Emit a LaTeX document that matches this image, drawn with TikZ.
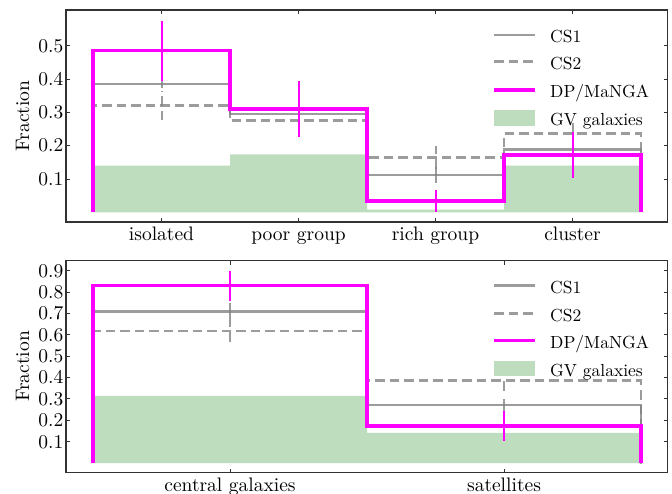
\documentclass[tikz,border=0pt]{standalone}
\usepackage{fontspec}
\setmainfont{lmroman10-regular.otf}
\definecolor{gvgreen}{RGB}{190,221,190}
\definecolor{dpmag}{RGB}{255,0,255}
\definecolor{framegray}{RGB}{50,50,50}
\tikzset{
  gv/.style={fill=gvgreen, draw=none},
  csone/.style={draw=gray, draw opacity=0.78, line width=2.8pt},
  cstwo/.style={draw=gray, draw opacity=0.78, line width=2.8pt, dash pattern=on 9.5pt off 5pt},
  dpline/.style={draw=dpmag, line width=3.2pt},
  cserr/.style={draw=gray, draw opacity=0.78, line width=2pt},
  cserrd/.style={draw=gray, draw opacity=0.78, line width=2pt, dash pattern=on 9.5pt off 5pt},
  dperr/.style={draw=dpmag, line width=2pt},
  frame/.style={draw=framegray, line width=1.3pt},
  tickmark/.style={draw=framegray, line width=1pt},
  ticklab/.style={font=\fontsize{19.5}{20}\selectfont, inner sep=0pt, text=black},
  leglab/.style={font=\fontsize{17.5}{18}\selectfont, inner sep=0pt, anchor=base west, text=black},
}
\begin{document}
\begin{tikzpicture}[x=1pt,y=-1pt]
\useasboundingbox (0,0) rectangle (672,493);
% ================= TOP PANEL =================
\begin{scope}[shift={(0,212.3)}, y=333pt]
  \fill[gv] (93,0) -- (93,0.14) -- (230,0.14) -- (230,0.174) -- (367,0.174) -- (367,0.008) -- (504,0.008) -- (504,0.14) -- (641,0.14) -- (641,0) -- cycle;
  \draw[csone] (93,0) |- (230,0.385) |- (367,0.295) |- (504,0.112) |- (641,0.189) -- (641,0);
  \draw[cstwo] (93,0) |- (230,0.321) |- (367,0.275) |- (504,0.165) |- (641,0.237) -- (641,0);
  % CS1 error bars
  \draw[cserr] (161.5,0.373) -- (161.5,0.397);
  \draw[cserr] (298.5,0.283) -- (298.5,0.307);
  \draw[cserr] (435.5,0.087) -- (435.5,0.137);
  \draw[cserr] (572.5,0.169) -- (572.5,0.209);
  % CS2 error bars
  \draw[cserrd] (161.5,0.277) -- (161.5,0.365);
  \draw[cserrd] (298.5,0.263) -- (298.5,0.287);
  \draw[cserrd] (435.5,0.131) -- (435.5,0.199);
  \draw[cserrd] (572.5,0.197) -- (572.5,0.277);
  % DP/MaNGA
  \draw[dpline] (93,0) |- (230,0.485) |- (367,0.31) |- (504,0.034) |- (641,0.172) -- (641,0);
  \draw[dperr] (161.5,0.395) -- (161.5,0.575);
  \draw[dperr] (298.5,0.225) -- (298.5,0.395);
  \draw[dperr] (435.5,0.001) -- (435.5,0.067);
  \draw[dperr] (572.5,0.104) -- (572.5,0.240);
  % y ticks and labels
  \foreach \v/\n in {0.1/a,0.2/b,0.3/c,0.4/d,0.5/e}{
    \draw[tickmark] (66,\v) -- ++(4,0);
    \draw[tickmark] (667.5,\v) -- ++(-4,0);
    \node[ticklab, anchor=east] (ty\n) at (63.5,\v) {\v};
  }
\end{scope}
\draw[frame] (66,10) rectangle (667.5,222);
\foreach \x/\n in {161.5/a,298.5/b,435.5/c,572.5/d}{
  \draw[tickmark] (\x,222) -- ++(0,-4);
  \draw[tickmark] (\x,10) -- ++(0,4);
}
\node[ticklab, anchor=base] (tx1) at (161.5,240.7) {isolated};
\node[ticklab, anchor=base] (tx2) at (298.5,240.7) {poor group};
\node[ticklab, anchor=base] (tx3) at (435.5,240.7) {rich group};
\node[ticklab, anchor=base] (tx4) at (572.5,240.7) {cluster};
\node[ticklab, rotate=90, anchor=center] (ylab1) at (22.5,116) {Fraction};
% legend top
\draw[csone] (494,35) -- (535,35);
\draw[cstwo] (494,61.7) -- (535,61.7);
\draw[dpline] (494,90) -- (535,90);
\fill[gv] (494,110) rectangle (535,126);
\node[leglab] (l1a) at (550,42.7) {CS1};
\node[leglab] (l1b) at (550,69.5) {CS2};
\node[leglab] (l1c) at (550,97) {DP/MaNGA};
\node[leglab] (l1d) at (550,125) {GV galaxies};
% ================= BOTTOM PANEL =================
\begin{scope}[shift={(0,463.1)}, y=213.75pt]
  \fill[gv] (93,0) -- (93,0.315) -- (367,0.315) -- (367,0.142) -- (641,0.142) -- (641,0) -- cycle;
  \draw[csone] (93,0) |- (367,0.708) |- (641,0.272) -- (641,0);
  \draw[cstwo] (93,0) |- (367,0.618) |- (641,0.385) -- (641,0);
  \draw[cserr] (230,0.668) -- (230,0.748);
  \draw[cserr] (504,0.242) -- (504,0.302);
  \draw[cserrd] (230,0.568) -- (230,0.668);
  \draw[cserrd] (504,0.338) -- (504,0.432);
  \draw[dpline] (93,0) |- (367,0.83) |- (641,0.174) -- (641,0);
  \draw[dperr] (230,0.76) -- (230,0.90);
  \draw[dperr] (504,0.103) -- (504,0.245);
  \foreach \v/\n in {0.1/a,0.2/b,0.3/c,0.4/d,0.5/e,0.6/f,0.7/g,0.8/h,0.9/i}{
    \draw[tickmark] (66,\v) -- ++(4,0);
    \draw[tickmark] (667.5,\v) -- ++(-4,0);
    \node[ticklab, anchor=east] (by\n) at (63.5,\v) {\v};
  }
\end{scope}
\draw[frame] (66,260.7) rectangle (667.5,472.7);
\foreach \x in {230,504}{
  \draw[tickmark] (\x,472.7) -- ++(0,-4);
  \draw[tickmark] (\x,260.7) -- ++(0,4);
}
\node[ticklab, anchor=base] (bx1) at (230,491.5) {central galaxies};
\node[ticklab, anchor=base] (bx2) at (504,491.5) {satellites};
\node[ticklab, rotate=90, anchor=center] (ylab2) at (22.5,366.5) {Fraction};
% legend bottom
\draw[csone] (494,285.7) -- (535,285.7);
\draw[cstwo] (494,313.3) -- (535,313.3);
\draw[dpline] (494,340.7) -- (535,340.7);
\fill[gv] (494,361) rectangle (535,376);
\node[leglab] (l2a) at (550,293.3) {CS1};
\node[leglab] (l2b) at (550,321) {CS2};
\node[leglab] (l2c) at (550,348) {DP/MaNGA};
\node[leglab] (l2d) at (550,376) {GV galaxies};
\end{tikzpicture}
\end{document}
